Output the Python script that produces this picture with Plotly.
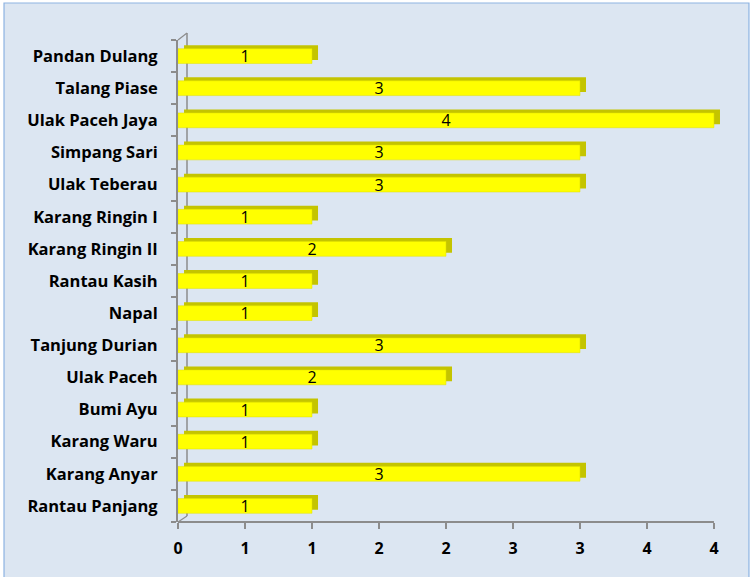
import plotly.graph_objects as go

#---
# data (top to bottom as shown)
#---
villages = [
    "Pandan Dulang", "Talang Piase", "Ulak Paceh Jaya", "Simpang Sari",
    "Ulak Teberau", "Karang Ringin I", "Karang Ringin II", "Rantau Kasih",
    "Napal", "Tanjung Durian", "Ulak Paceh", "Bumi Ayu", "Karang Waru",
    "Karang Anyar", "Rantau Panjang",
]
counts = [1, 3, 4, 3, 3, 1, 2, 1, 1, 3, 2, 1, 1, 3, 1]
x_ticks = [0, 0.5, 1, 1.5, 2, 2.5, 3, 3.5, 4]

#---
# chart config
#---
W, H = 752, 577
L, T, B = 178, 40, 55
X_MAX = 4.06               # a bit of room for the 3d side of the longest bar
UNIT = 134                 # pixels per x unit
R = W - L - UNIT * X_MAX
FONT = "Open Sans"
BG = "#dce6f2"
AXIS = "#8c8c8c"

# plotly puts the first category at the bottom
cats = villages[::-1]
vals = counts[::-1]

depth_x = 0.045   # 3d side depth in data units
depth_y = 0.11    # 3d top depth in category units
bar_w = 0.46

fig = go.Figure()

# darker "back" face for the 3d look
fig.add_trace(go.Bar(
    y=cats, x=vals, base=depth_x, orientation="h",
    width=bar_w, offset=-bar_w / 2 + depth_y,
    marker=dict(color="#c4c400", line=dict(width=0)),
    hoverinfo="skip", showlegend=False,
))
# front face
fig.add_trace(go.Bar(
    y=cats, x=vals, orientation="h",
    width=bar_w, offset=-bar_w / 2,
    marker=dict(color="#ffff00", line=dict(color="#e0e000", width=0.5)),
    text=[str(v) for v in vals], textposition="inside", textangle=0,
    insidetextanchor="middle", constraintext="none",
    textfont=dict(family=FONT, size=16, color="black"),
    showlegend=False,
))

# excel-like rounding of the half steps
tick_text = [str(int(v + 0.5)) for v in x_ticks]

plot_w = W - L - R
plot_h = H - T - B
px = lambda p: (p - L) / plot_w
py = lambda p: (H - B - p) / plot_h

shapes = [
    # chart area frame
    dict(type="rect", xref="paper", yref="paper",
         x0=px(4), x1=px(749), y0=py(590), y1=py(3),
         fillcolor=BG, line=dict(color="#8db3e2", width=1.2), layer="below"),
    # back wall edge
    dict(type="line", xref="paper", yref="paper",
         x0=px(187), x1=px(187), y0=py(516), y1=py(33),
         line=dict(color=AXIS, width=1.5), layer="below"),
    dict(type="line", xref="paper", yref="paper",
         x0=px(178), x1=px(187), y0=py(522), y1=py(516),
         line=dict(color=AXIS, width=1.2), layer="below"),
    dict(type="line", xref="paper", yref="paper",
         x0=px(178), x1=px(187), y0=py(40), y1=py(33),
         line=dict(color=AXIS, width=1.2), layer="below"),
    # value axis line, stopping at the last tick
    dict(type="line", xref="x", yref="paper",
         x0=x_ticks[0], x1=x_ticks[-1], y0=0, y1=0,
         line=dict(color=AXIS, width=2), layer="below"),
]

fig.update_layout(
    width=W, height=H,
    margin=dict(l=L, r=R, t=T, b=B),
    paper_bgcolor="white",
    plot_bgcolor="rgba(0,0,0,0)",
    barmode="overlay",
    shapes=shapes,
    font=dict(family=FONT, color="black"),
)
fig.update_xaxes(
    range=[0, X_MAX], tickvals=x_ticks, ticktext=tick_text,
    showgrid=False, zeroline=False, showline=False,
    ticks="outside", ticklen=6, tickcolor=AXIS, tickwidth=1.5,
    ticklabelstandoff=6,
    tickfont=dict(family=FONT, size=16, color="black", weight="bold"),
)
fig.update_yaxes(
    categoryorder="array", categoryarray=cats,
    range=[-0.5, len(cats) - 0.5],
    showgrid=False, zeroline=False,
    showline=True, linecolor=AXIS, linewidth=2,
    ticks="outside", ticklen=5, tickcolor=AXIS, tickwidth=1.5,
    tickson="boundaries", ticklabelstandoff=15,
    tickfont=dict(family=FONT, size=16.5, color="black", weight="bold"),
)

# drop the default body margin so the figure sits at the page corner
fig.write_html(
    "out.html",
    config={"displayModeBar": False},
    post_script="document.body.style.margin='0';",
)
